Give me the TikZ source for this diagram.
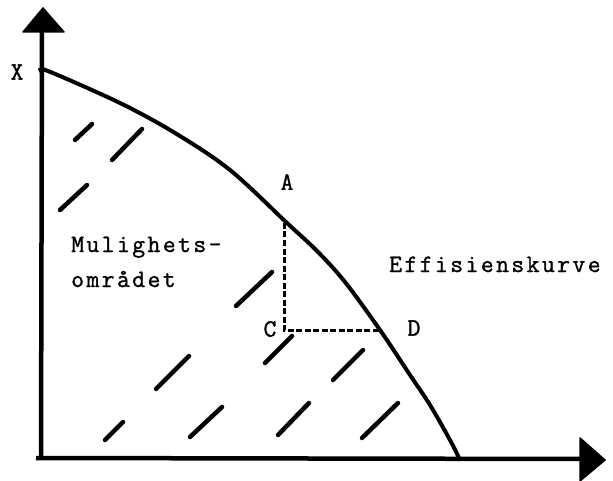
\documentclass[tikz,border=0pt]{standalone}
\usepackage{fontspec}
\newfontfamily\monofnt[FakeBold=1.2]{Latin Modern Mono}
\makeatletter
\newcommand\spacedtxt[1]{\spaced@aux#1\relax}
\def\spaced@aux#1{\ifx#1\relax\else#1\kern2.4pt\expandafter\spaced@aux\fi}
\makeatother
\begin{document}
\begin{tikzpicture}[x=1pt,y=-1pt,
  axisline/.style={line width=4.5pt},
  headfill/.style={fill=black,draw=black,line width=1.5pt,line join=round},
  effcurve/.style={line width=4pt,line cap=round},
  hatchline/.style={line width=4.5pt,line cap=round},
  guideline/.style={line width=3pt,dash pattern=on 6pt off 2.5pt},
  lbl/.style={font=\monofnt\fontsize{25}{30}\selectfont,inner sep=0pt}]
\useasboundingbox (0,0) rectangle (613,481);
% axes
\coordinate (O) at (41,458);
\coordinate (ytop) at (42,28);
\coordinate (xend) at (583,459);
\coordinate (xstart) at (36,458);
\draw[axisline] (O) -- (ytop);
\draw[axisline] (xstart) -- (xend);
\fill[headfill] (43,8) -- (64,32) -- (23,32) -- cycle;
\fill[headfill] (605,460) -- (580,438) -- (580,481) -- cycle;
% efficiency curve
\draw[effcurve] plot[smooth,tension=0.55] coordinates {(42,72) (48,71) (120,103) (175,133) (230,170) (287,223) (317,251) (345,282) (380,330) (410,375) (430,405) (450,440) (459,458)};
% hatching
\foreach \a/\b/\c/\d in {75/140/92/124, 112/160/142/129, 60/210/87/185, 236/306/272/272,
  265/363/292/336, 333/380/363/350, 156/389/189/356, 105/440/123/422,
  190/437/222/407, 278/435/309/403, 362/438/398/403}
  \draw[hatchline] (\a,\b) -- (\c,\d);
% points
\coordinate (Apt) at (284,223);
\coordinate (Cpt) at (284,330);
\coordinate (Dpt) at (381,330);
\draw[guideline] (Apt) -- (Cpt) -- (Dpt);
% labels
\node[lbl] (X) at (17,72) {X};
\node[lbl] (A) at (287,182) {A};
\node[lbl] (C) at (270,329) {C};
\node[lbl] (D) at (414,328) {D};
\node[lbl,anchor=base west] (mul) at (71,252) {\spacedtxt{Mulighets-}};
\node[lbl,anchor=base west] (omr) at (71,287) {\spacedtxt{området}};
\node[lbl,anchor=base west] (eff) at (389,272) {\spacedtxt{Effisienskurve}};
\end{tikzpicture}
\end{document}
